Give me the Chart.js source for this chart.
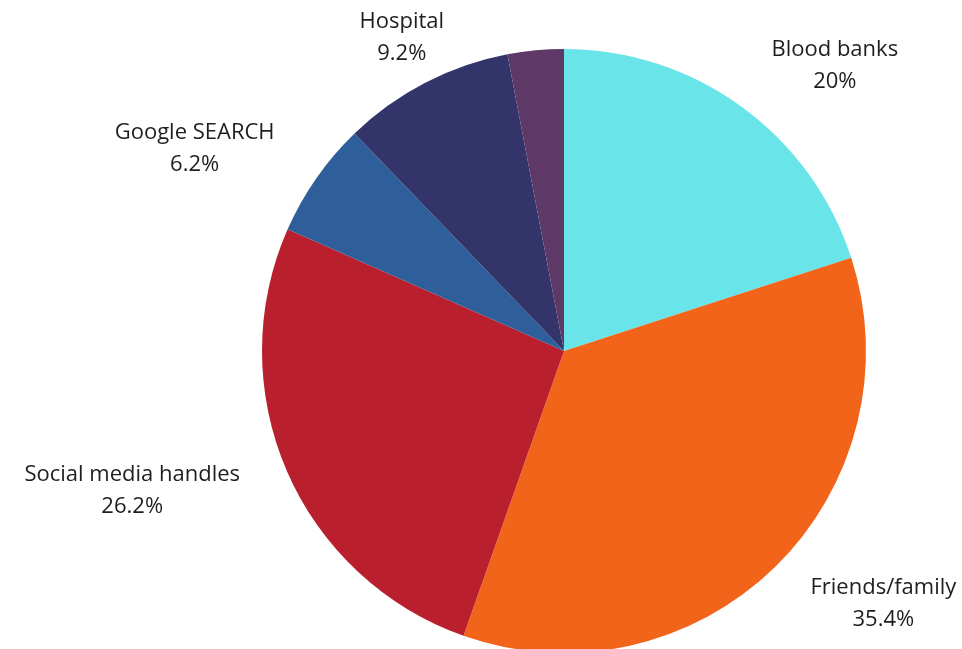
<!DOCTYPE html>
<html>
<head>
<meta charset="utf-8">
<script src="https://cdn.jsdelivr.net/npm/chart.js@4/dist/chart.umd.min.js"></script>
<style>
  html, body { margin: 0; padding: 0; background: #fff; overflow: hidden; }
  #wrap { position: relative; width: 962px; height: 704px; }
</style>
</head>
<body>
<div id="wrap"><canvas id="pieChart"></canvas></div>
<script>
// where people heard about the donation drive, in percent
const categories = ["Blood banks", "Friends/family", "Social media handles", "Google SEARCH", "Hospital", "Other"];
const shares = [20, 35.4, 26.2, 6.2, 9.2, 3.0];
const showLabel = [true, true, true, true, true, false];
const colors = ["#69e5e9", "#f2641a", "#ba1f2d", "#2e5f9a", "#32346a", "#5e3866"];

const labelFont = "22px 'Open Sans', 'Noto Sans', sans-serif";
const lineGap = 32;

// draws "name / value%" outside each slice, anchored on the slice's middle ray
const outsideLabels = {
  id: "outsideLabels",
  afterDatasetsDraw(chart) {
    const ctx = chart.ctx;
    const meta = chart.getDatasetMeta(0);
    ctx.save();
    ctx.font = labelFont;
    ctx.fillStyle = "#1e1e1e";
    ctx.textBaseline = "middle";
    ctx.textAlign = "center";
    meta.data.forEach((arc, i) => {
      if (!showLabel[i]) return;
      const mid = (arc.startAngle + arc.endAngle) / 2;
      const dist = arc.outerRadius + 51;
      const ax = arc.x + Math.cos(mid) * dist;
      const ay = arc.y + Math.sin(mid) * dist;
      const lines = [categories[i], shares[i] + "%"];
      const w = Math.max(...lines.map(t => ctx.measureText(t).width));
      let cx = ax;
      const side = Math.cos(mid);
      if (Math.abs(side) >= 0.5) cx = side > 0 ? ax + w / 2 : ax - w / 2;
      const top = ay - lineGap / 2;
      lines.forEach((t, k) => ctx.fillText(t, cx, top + k * lineGap));
    });
    ctx.restore();
  }
};

new Chart("pieChart", {
  type: "pie",
  data: {
    labels: categories,
    datasets: [{
      data: shares,
      backgroundColor: colors,
      borderWidth: 0
    }]
  },
  options: {
    responsive: true,
    maintainAspectRatio: false,
    animation: false,
    layout: { padding: { top: 49, bottom: 51, left: 262, right: 96 } },
    plugins: {
      legend: { display: false },
      tooltip: { enabled: false }
    }
  },
  plugins: [outsideLabels]
});
</script>
</body>
</html>
